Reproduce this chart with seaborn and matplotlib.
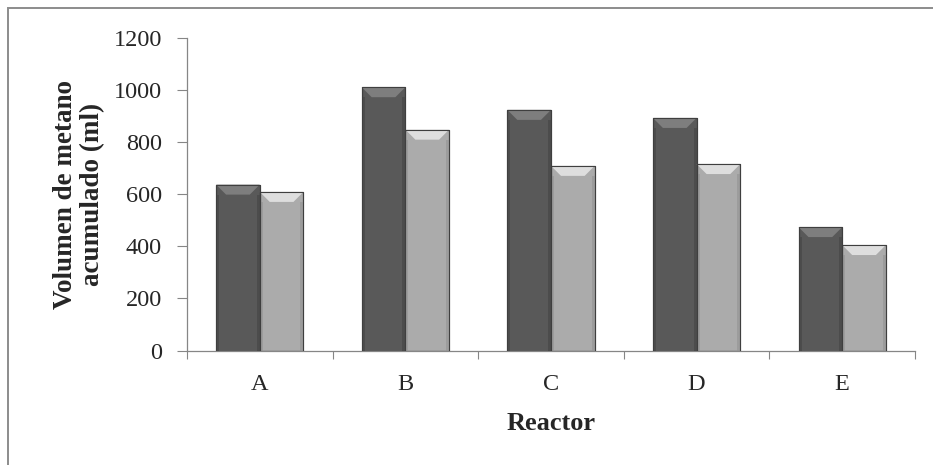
import matplotlib
matplotlib.use("Agg")
import matplotlib.pyplot as plt
from matplotlib.patches import Polygon, Rectangle
from matplotlib.ticker import FixedLocator, NullFormatter
import seaborn as sns
import pandas as pd

# Accumulated methane volume per reactor (two runs)
reactors = ["A", "B", "C", "D", "E"]
serie_1 = [637, 1011, 924, 893, 474]
serie_2 = [609, 848, 709, 716, 405]
series_names = ["Serie 1", "Serie 2"]
y_ticks = [0, 200, 400, 600, 800, 1000, 1200]

df = pd.DataFrame({
    "Reactor": reactors * 2,
    "Volumen": serie_1 + serie_2,
    "Serie": [series_names[0]] * len(reactors) + [series_names[1]] * len(reactors),
})

sns.set_theme(style="white")
plt.rcParams["font.family"] = ["Liberation Serif", "DejaVu Serif"]

fig = plt.figure(figsize=(9.33, 4.65), dpi=100)
ax = fig.add_axes([0.2004, 0.2462, 0.7803, 0.6721])

body = {"Serie 1": "#595959", "Serie 2": "#ababab"}
top_col = {"Serie 1": "#7e7e7e", "Serie 2": "#dedede"}
side_col = {"Serie 1": "#4c4c4c", "Serie 2": "#9c9c9c"}

sns.barplot(data=df, x="Reactor", y="Volumen", hue="Serie", palette=body,
            width=0.6, gap=0, dodge=True, legend=False, ax=ax,
            edgecolor="#3f3f3f", linewidth=0.8, saturation=1, zorder=2)

ax.set_ylim(0, 1200)
ax.set_xlim(-0.5, len(reactors) - 0.5)
fig.canvas.draw()

# Bevelled look: light top facet and darker side strips on each bar
to_disp = ax.transData
to_data = ax.transData.inverted()
bars = list(ax.patches)
n = len(reactors)
for i, bar in enumerate(bars):
    serie = series_names[i // n]
    x0, y0 = bar.get_x(), bar.get_y()
    w, h = bar.get_width(), bar.get_height()
    (px0, py0) = to_disp.transform((x0, y0))
    (px1, py1) = to_disp.transform((x0 + w, y0 + h))
    inset = 10
    strip = 3
    top = Polygon([to_data.transform((px0, py1)), to_data.transform((px1, py1)),
                   to_data.transform((px1 - inset, py1 - inset)),
                   to_data.transform((px0 + inset, py1 - inset))],
                  closed=True, facecolor=top_col[serie], edgecolor="none", zorder=3)
    ax.add_patch(top)
    for sx in (px0, px1 - strip):
        (dx0, dy0) = to_data.transform((sx, py0))
        (dx1, dy1) = to_data.transform((sx + strip, py1 - inset))
        ax.add_patch(Rectangle((dx0, dy0), dx1 - dx0, dy1 - dy0,
                               facecolor=side_col[serie], edgecolor="none", zorder=3))
    ax.add_patch(Rectangle((x0, y0), w, h, facecolor="none",
                           edgecolor="#3f3f3f", linewidth=0.8, zorder=4))

ax.set_yticks(y_ticks)
ax.tick_params(axis="y", which="major", direction="out", length=7, width=0.8,
               color="#868686", labelsize=17.5, pad=11, left=True)
ax.xaxis.set_minor_locator(FixedLocator([i - 0.5 for i in range(len(reactors) + 1)]))
ax.xaxis.set_minor_formatter(NullFormatter())
ax.tick_params(axis="x", which="major", length=0, labelsize=17.5, pad=17)
ax.tick_params(axis="x", which="minor", direction="out", length=6, width=0.8,
               color="#868686", bottom=True)

for side in ("top", "right"):
    ax.spines[side].set_visible(False)
for side in ("left", "bottom"):
    ax.spines[side].set_color("#868686")
    ax.spines[side].set_linewidth(0.9)

ax.set_xlabel("Reactor", fontsize=19, fontweight="bold", labelpad=12)
ax.set_ylabel("Volumen de metano\nacumulado (ml)", fontsize=19.5,
              fontweight="bold", labelpad=6, linespacing=1.1)

# Outer frame of the chart area
fig.patches.append(Rectangle((8 / 933, -0.1), 1.2, 1 - 8 / 465 + 0.1,
                             transform=fig.transFigure, fill=False,
                             edgecolor="#8c8c8c", linewidth=1.4))

fig.savefig("out.png", dpi=100)
